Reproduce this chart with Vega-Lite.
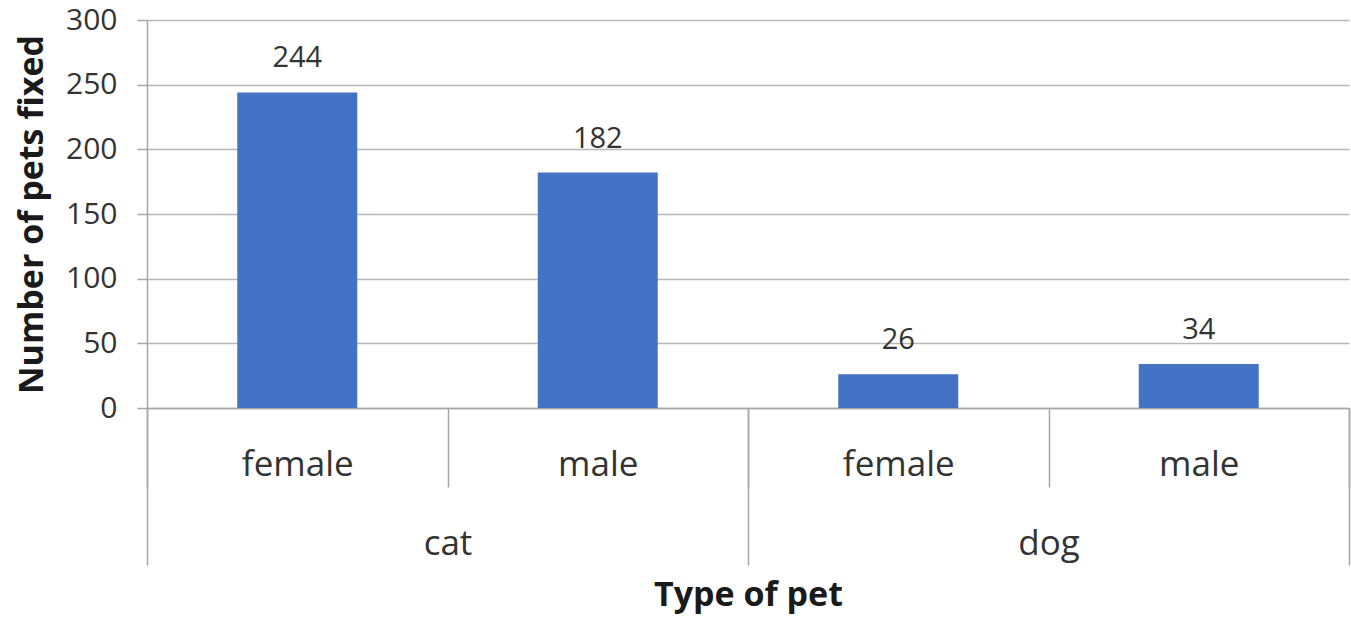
{
  "$schema": "https://vega.github.io/schema/vega-lite/v6.json",
  "width": 1202,
  "height": 388,
  "autosize": "none",
  "padding": {"left": 147, "top": 20, "right": 2, "bottom": 212},
  "background": "#ffffff",
  "config": {
    "view": {"stroke": null},
    "font": "Open Sans"
  },
  "data": {
    "values": [
      {"pet": "cat", "gender": "female", "key": "cat|female", "count": 244},
      {"pet": "cat", "gender": "male", "key": "cat|male", "count": 182},
      {"pet": "dog", "gender": "female", "key": "dog|female", "count": 26},
      {"pet": "dog", "gender": "male", "key": "dog|male", "count": 34}
    ]
  },
  "layer": [
    {
      "mark": {"type": "bar", "color": "#4472C4", "size": 120},
      "encoding": {
        "x": {
          "field": "key",
          "type": "nominal",
          "sort": null,
          "scale": {"type": "band", "paddingInner": 0, "paddingOuter": 0},
          "axis": {
            "title": null,
            "orient": "bottom",
            "labelExpr": "split(datum.value, '|')[1]",
            "labelAngle": 0,
            "labelFontSize": 35,
            "labelColor": "#333333",
            "labelBaseline": "middle",
            "labelPadding": -23,
            "tickBand": "extent",
            "tickSize": 79,
            "tickColor": "#a6a6a6",
            "tickWidth": 1.5,
            "domainColor": "#a6a6a6",
            "domainWidth": 1.5
          }
        },
        "y": {
          "field": "count",
          "type": "quantitative",
          "scale": {"domain": [0, 300]},
          "axis": {
            "values": [0, 50, 100, 150, 200, 250, 300],
            "title": "Number of pets fixed",
            "titleFontSize": 34,
            "titleFontWeight": "bold",
            "titleColor": "#1a1a1a",
            "titlePadding": 16,
            "labelFontSize": 30,
            "labelColor": "#333333",
            "labelPadding": 20,
            "tickSize": 10,
            "tickColor": "#a6a6a6",
            "tickWidth": 1.5,
            "domainColor": "#a6a6a6",
            "domainWidth": 1.5,
            "gridColor": "#b8b8b8",
            "gridWidth": 1.5
          }
        }
      }
    },
    {
      "mark": {"type": "text", "baseline": "bottom", "dy": -19, "fontSize": 29, "color": "#333333"},
      "encoding": {
        "x": {
          "field": "pet",
          "type": "nominal",
          "sort": null,
          "scale": {"type": "band", "paddingInner": 0, "paddingOuter": 0},
          "axis": {
            "title": "Type of pet",
            "orient": "bottom",
            "titleFontSize": 34,
            "titleFontWeight": "bold",
            "titleColor": "#1a1a1a",
            "titlePadding": 13,
            "labelAngle": 0,
            "labelFontSize": 35,
            "labelColor": "#333333",
            "labelBaseline": "middle",
            "labelPadding": -22,
            "tickBand": "extent",
            "tickSize": 157,
            "tickColor": "#a6a6a6",
            "tickWidth": 1.5,
            "domain": false
          }
        },
        "xOffset": {
          "field": "gender",
          "type": "nominal",
          "sort": null,
          "scale": {"type": "band", "paddingInner": 0, "paddingOuter": 0}
        },
        "y": {"field": "count", "type": "quantitative"},
        "text": {"field": "count", "type": "quantitative"}
      }
    }
  ],
  "resolve": {"scale": {"x": "independent"}}
}
